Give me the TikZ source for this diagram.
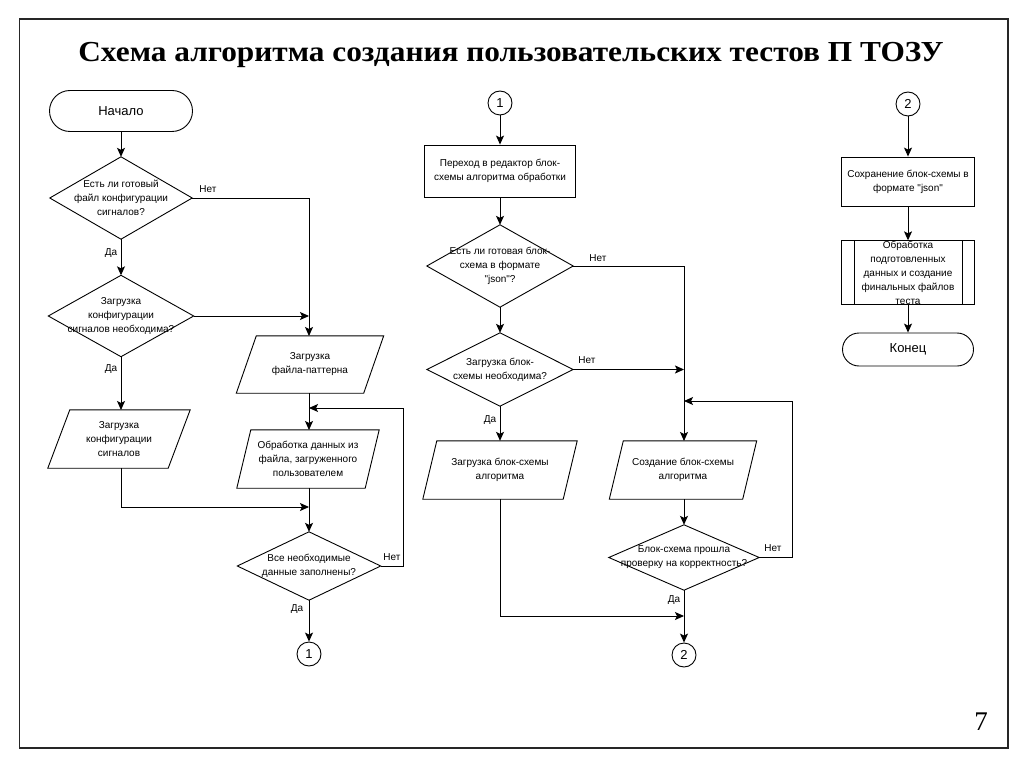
\documentclass[tikz,border=0pt]{standalone}
\usepackage{fontspec}
\setmainfont{Liberation Serif}
\newfontfamily\arial{Liberation Sans}
\usetikzlibrary{shapes.misc,arrows.meta}
\begin{document}
\begin{tikzpicture}[x=1pt,y=-1pt,
  every node/.style={inner sep=0pt},
  lbl/.style={font=\arial\fontsize{10}{14}\selectfont, align=center},
  shp/.style={draw, line width=0.9pt},
  box/.style={lbl, draw, line width=0.9pt},
  txt/.style={lbl},
  term/.style={draw, line width=0.9pt, rounded rectangle, font=\arial\fontsize{13}{15}\selectfont},
  conn/.style={draw, line width=0.9pt, circle, minimum size=24pt, font=\arial\fontsize{13}{15}\selectfont},
  arr/.style={line width=0.9pt, -{Stealth[length=9pt,width=8pt,inset=2pt]}},
  ln/.style={line width=0.9pt}
]
\useasboundingbox (0,0) rectangle (1024,767);
\draw[line width=1.4pt, black!85] (19.5,19) rectangle (1008,748);
\node[font=\bfseries\fontsize{29}{30}\selectfont, anchor=base, xscale=1.08] (title) at (511,62) {Схема алгоритма создания пользовательских тестов П ТОЗУ};
\node[font=\fontsize{27}{28}\selectfont, anchor=base] (pg) at (981,730) {7};

% ---------- left column ----------
\node[term, minimum width=143pt, minimum height=41pt] (start) at (121,111) {Начало};
\node[txt, minimum width=142pt, minimum height=82pt] (d1) at (121,198) {Есть ли готовый\\файл конфигурации\\сигналов?};
\draw[shp] (d1.north) -- (d1.east) -- (d1.south) -- (d1.west) -- cycle;
\node[txt, minimum width=145pt, minimum height=81pt] (d2) at (121,316) {Загрузка\\конфигурации\\сигналов необходима?};
\draw[shp] (d2.north) -- (d2.east) -- (d2.south) -- (d2.west) -- cycle;
\node[txt, minimum width=120pt, minimum height=58pt] (p1) at (119,439) {Загрузка\\конфигурации\\сигналов};
\draw[shp] ([xshift=11pt]p1.north west) -- ([xshift=11pt]p1.north east) -- ([xshift=-11pt]p1.south east) -- ([xshift=-11pt]p1.south west) -- cycle;
\node[txt, minimum width=127pt, minimum height=57pt] (p2) at (310,364.5) {Загрузка\\файла-паттерна};
\draw[shp] ([xshift=10pt]p2.north west) -- ([xshift=10pt]p2.north east) -- ([xshift=-10pt]p2.south east) -- ([xshift=-10pt]p2.south west) -- cycle;
\node[txt, minimum width=128pt, minimum height=58pt] (p3) at (308,459) {Обработка данных из\\файла, загруженного\\пользователем};
\draw[shp] ([xshift=7pt]p3.north west) -- ([xshift=7pt]p3.north east) -- ([xshift=-7pt]p3.south east) -- ([xshift=-7pt]p3.south west) -- cycle;
\node[txt, minimum width=143pt, minimum height=68pt] (d3) at (309,566) {Все необходимые\\данные заполнены?};
\draw[shp] (d3.north) -- (d3.east) -- (d3.south) -- (d3.west) -- cycle;
\node[conn] (c1) at (309,654) {1};

\coordinate (j1) at (309,507);
\coordinate (loop1) at (309,408);
\draw[arr] (start.south) -- (d1.north);
\draw[arr] (d1.east) -- (309,198) -- (309,336);
\node[lbl] (n1) at (208,189) {Нет};
\draw[arr] (d1.south) -- (d2.north);
\node[lbl] (y1) at (111,253) {Да};
\draw[arr] (d2.east) -- (309,316);
\draw[arr] (d2.south) -- (121,410);
\node[lbl] (y2) at (111,369) {Да};
\draw[arr] (121,468) |- (j1);
\draw[arr] (309,393) -- (309,430);
\draw[arr] (309,488) -- (d3.north);
\draw[arr] (d3.east) -- (403,566) |- (loop1);
\node[lbl] (n2) at (392,557) {Нет};
\draw[arr] (d3.south) -- (c1.north);
\node[lbl] (y3) at (297,609) {Да};

% ---------- middle column ----------
\node[conn] (c1b) at (500,103) {1};
\node[box, minimum width=151pt, minimum height=52pt] (r1) at (500,171) {Переход в редактор блок-\\схемы алгоритма обработки};
\node[txt, minimum width=146pt, minimum height=82pt] (d4) at (500,266) {Есть ли готовая блок-\\схема в формате\\"json"?};
\draw[shp] (d4.north) -- (d4.east) -- (d4.south) -- (d4.west) -- cycle;
\node[txt, minimum width=146pt, minimum height=73pt] (d5) at (500,369.5) {Загрузка блок-\\схемы необходима?};
\draw[shp] (d5.north) -- (d5.east) -- (d5.south) -- (d5.west) -- cycle;
\node[txt, minimum width=140pt, minimum height=58pt] (p4) at (500,470) {Загрузка блок-схемы\\алгоритма};
\draw[shp] ([xshift=7pt]p4.north west) -- ([xshift=7pt]p4.north east) -- ([xshift=-7pt]p4.south east) -- ([xshift=-7pt]p4.south west) -- cycle;
\node[txt, minimum width=133pt, minimum height=58pt] (p5) at (683,470) {Создание блок-схемы\\алгоритма};
\draw[shp] ([xshift=7pt]p5.north west) -- ([xshift=7pt]p5.north east) -- ([xshift=-7pt]p5.south east) -- ([xshift=-7pt]p5.south west) -- cycle;
\node[txt, minimum width=150pt, minimum height=65pt] (d6) at (684,557.5) {Блок-схема прошла\\проверку на корректность?};
\draw[shp] (d6.north) -- (d6.east) -- (d6.south) -- (d6.west) -- cycle;
\node[conn] (c2) at (684,655) {2};

\coordinate (loop2) at (684,401);
\coordinate (j2) at (684,616);
\draw[arr] (c1b.south) -- (r1.north);
\draw[arr] (r1.south) -- (d4.north);
\draw[arr] (d4.east) -| (684,441);
\node[lbl] (n3) at (598,258) {Нет};
\draw[arr] (d4.south) -- (d5.north);
\draw[arr] (d5.east) -- (684,369.5);
\node[lbl] (n4) at (587,360) {Нет};
\draw[arr] (d5.south) -- (p4.north);
\node[lbl] (y4) at (490,420) {Да};
\draw[arr] (p4.south) |- (j2);
\draw[arr] (684,499) -- (d6.north);
\draw[arr] (d6.east) -- (792,557.5) |- (loop2);
\node[lbl] (n5) at (773,548) {Нет};
\draw[arr] (d6.south) -- (c2.north);
\node[lbl] (y5) at (674,600) {Да};

% ---------- right column ----------
\node[conn] (c2b) at (908,104) {2};
\node[box, minimum width=133pt, minimum height=49pt] (r2) at (908,181.5) {Сохранение блок-схемы в\\формате "json"};
\node[box, minimum width=133pt, minimum height=59pt] (r3) at (908,272.5) {Обработка\\подготовленных\\данных и создание\\финальных файлов\\теста};
\draw[ln] ([xshift=13pt]r3.north west) -- ([xshift=13pt]r3.south west);
\draw[ln] ([xshift=-13pt]r3.north east) -- ([xshift=-13pt]r3.south east);
\node[term, minimum width=131pt, minimum height=33pt] (end) at (908,349.5) {Конец};
\draw[arr] (c2b.south) -- (r2.north);
\draw[arr] (r2.south) -- (r3.north);
\draw[arr] (r3.south) -- (end.north);
\end{tikzpicture}
\end{document}
